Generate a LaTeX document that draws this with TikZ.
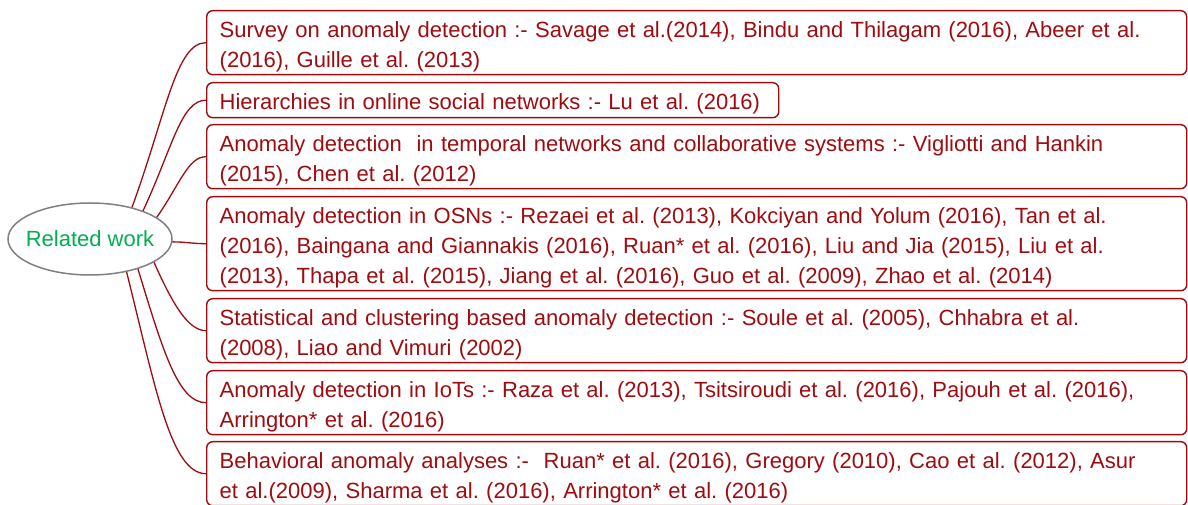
\documentclass[tikz,border=0pt]{standalone}
\usepackage{fontspec}
\setmainfont{Liberation Sans}
\usetikzlibrary{shapes.geometric}
\definecolor{dred}{RGB}{158,12,16}
\definecolor{lgreen}{RGB}{0,176,80}
\definecolor{egray}{RGB}{128,128,128}
% struts that fix the first-line height and last-line depth of every box
\newcommand\fstrut{\rule{0pt}{24pt}}
\newcommand\lstrut{\rule[-5pt]{0pt}{5pt}}
\frenchspacing
\begin{document}
\begin{tikzpicture}[x=1pt,y=1pt,
  refbox/.style={draw=dred, line width=1.4pt, rounded corners=6pt,
    anchor=north west, inner xsep=13pt, inner ysep=0pt, align=left,
    text=dred, font=\fontsize{22}{30}\selectfont,
    minimum width=980pt, text width=954pt},
  hub/.style={ellipse, draw=egray, line width=1.5pt, minimum width=164pt,
    minimum height=72pt, inner xsep=-8pt, inner ysep=0pt, text=lgreen,
    font=\fontsize{22}{26}\selectfont},
  conn/.style={draw=dred, line width=1.3pt}]
\useasboundingbox (0,0) rectangle (1188,505);

\node[hub] (rw) at (90,266) {Related work};

\node[refbox, minimum height=64pt] (b1) at (206,495)
  {\fstrut Survey on anomaly detection :- Savage et al.(2014), Bindu and Thilagam (2016), Abeer et al.\\
   (2016), Guille et al. (2013)\lstrut};
\node[refbox, minimum height=35pt, minimum width=572pt, text width=546pt] (b2) at (206,423)
  {\fstrut Hierarchies in online social networks :- Lu et al. (2016)\lstrut};
\node[refbox, minimum height=64pt] (b3) at (206,381)
  {\fstrut Anomaly detection\ \ in temporal networks and collaborative systems :- Vigliotti and Hankin\\
   (2015), Chen et al. (2012)\lstrut};
\node[refbox, minimum height=94pt] (b4) at (206,309)
  {\fstrut Anomaly detection in OSNs :- Rezaei et al. (2013), Kokciyan and Yolum (2016), Tan et al.\\
   (2016), Baingana and Giannakis (2016), Ruan* et al. (2016), Liu and Jia (2015), Liu et al.\\
   (2013), Thapa et al. (2015), Jiang et al. (2016), Guo et al. (2009), Zhao et al. (2014)\lstrut};
\node[refbox, minimum height=64pt] (b5) at (206,207)
  {\fstrut Statistical and clustering based anomaly detection :- Soule et al. (2005), Chhabra et al.\\
   (2008), Liao and Vimuri (2002)\lstrut};
\node[refbox, minimum height=64pt] (b6) at (206,135)
  {\fstrut Anomaly detection in IoTs :- Raza et al. (2013), Tsitsiroudi et al. (2016), Pajouh et al. (2016),\\
   Arrington* et al. (2016)\lstrut};
\node[refbox, minimum height=64pt] (b7) at (206,64)
  {\fstrut Behavioral anomaly analyses :-\ \ Ruan* et al. (2016), Gregory (2010), Cao et al. (2012), Asur\\
   et al.(2009), Sharma et al. (2016), Arrington* et al. (2016)\lstrut};

% branches from the central topic to each box
\draw[conn] (rw.37)  to[out=70, in=180, out distance=100pt, in distance=30pt] (b1.west);
\draw[conn] (rw.28)  to[out=65, in=180, out distance=70pt,  in distance=25pt] (b2.west);
\draw[conn] (rw.18)  to[out=55, in=180, out distance=40pt,  in distance=18pt] (b3.west);
\draw[conn] (rw.-2)  to[out=0,  in=180] (b4.west);
\draw[conn] (rw.-20) to[out=-66, in=180, out distance=45pt,  in distance=18pt] (b5.west);
\draw[conn] (rw.-32) to[out=-73, in=180, out distance=85pt,  in distance=28pt] (b6.west);
\draw[conn] (rw.-42) to[out=-76, in=180, out distance=120pt, in distance=35pt] (b7.west);
\end{tikzpicture}
\end{document}
